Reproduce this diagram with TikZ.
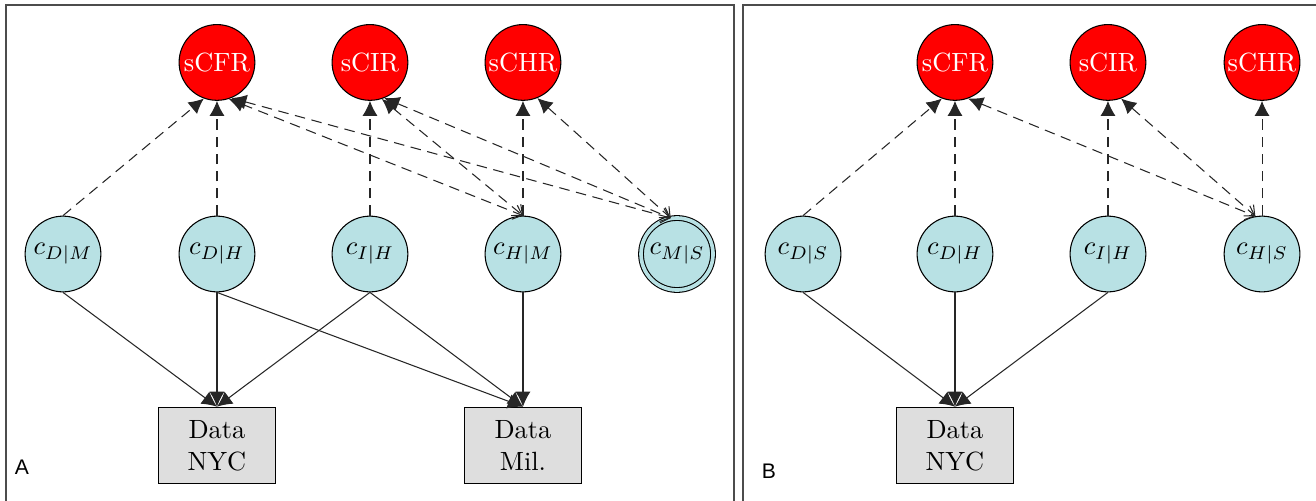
\documentclass[tikz,border=0pt]{standalone}
\usepackage[]{amsmath}
\usepackage[]{amssymb}
\usepackage[]{fontspec}
\usepackage[]{tikz}
\usetikzlibrary{arrows.meta}

\newfontfamily\panelfont{Liberation Sans}
\definecolor{powder}{RGB}{184,225,228}
\definecolor{boxgray}{RGB}{222,222,222}

\begin{document}
\begin{tikzpicture}[
    rate/.style={circle, draw, fill=red, text=white, minimum size=1.01cm, inner sep=0pt},
    cpar/.style={circle, draw, fill=powder, minimum size=1.01cm, inner sep=0pt},
    dbox/.style={rectangle, draw, fill=boxgray, minimum width=1.55cm, minimum height=1.02cm, align=center},
    frame/.style={draw=black!70, line width=0.9pt},
    obs/.style={-{Latex[length=2mm,width=2mm]}, black!85},
    link/.style={-{Latex[length=2mm,width=2mm]}, black!85, dash pattern=on 4pt off 2.5pt},
    both/.style={{Latex[length=2mm,width=2mm]}-{Straight Barb[length=1.1mm,width=2mm]}, black!85, dash pattern=on 4pt off 2.5pt}
]
            \useasboundingbox (0,0) rectangle (17.547,6.68);

            % panel frames
            \draw[frame] (0.08,-0.3) -- (0.08,6.613) -- (9.787,6.613) -- (9.787,-0.3);
            \draw[frame] (9.907,-0.3) -- (9.907,6.613) -- (17.7,6.613);

            % panel A
            \node[rate] (fr1) at (2.893,5.847) {sCFR};
            \node[rate] (ir1) at (4.933,5.847) {sCIR};
            \node[rate] (hr1) at (6.973,5.847) {sCHR};

            \node[cpar] (cDM) at (0.84,3.293) {$c_{D|M}$};
            \node[cpar] (cDH) at (2.893,3.293) {$c_{D|H}$};
            \node[cpar] (cIH) at (4.933,3.293) {$c_{I|H}$};
            \node[cpar] (cHM) at (6.973,3.293) {$c_{H|M}$};
            \node[cpar, minimum size=0.96cm, double=powder, double distance=1.4pt] (cMS) at (9.027,3.293) {$c_{M|S}$};

            \node[dbox] (nyc1) at (2.893,0.74) {Data\\NYC};
            \node[dbox] (mil) at (6.973,0.74) {Data\\Mil.};

            \draw[link] (cDM.north) -- (fr1.-110);
            \draw[link] (cDH.north) -- (fr1.south);
            \draw[link] (cIH.north) -- (ir1.south);
            \draw[link] (cHM.north) -- (hr1.south);
            \draw[both] (fr1.-72) -- (cHM.north);
            \draw[both] (fr1.-68) -- (cMS.100);
            \draw[both] (ir1.-72) -- (cHM.north);
            \draw[both] (ir1.-68) -- (cMS.100);
            \draw[both] (hr1.-68) -- (cMS.100);

            \draw[obs] (cDM.south) -- (nyc1.north);
            \draw[obs] (cDH.south) -- (nyc1.north);
            \draw[obs] (cDH.south) -- (mil.north);
            \draw[obs] (cIH.south) -- (nyc1.north);
            \draw[obs] (cIH.south) -- (mil.north);
            \draw[obs] (cHM.south) -- (mil.north);

            \node[font=\panelfont\footnotesize] (labA) at (0.293,0.453) {A};

            % panel B
            \node[rate] (fr2) at (12.733,5.847) {sCFR};
            \node[rate] (ir2) at (14.773,5.847) {sCIR};
            \node[rate] (hr2) at (16.827,5.847) {sCHR};

            \node[cpar] (cDS) at (10.707,3.293) {$c_{D|S}$};
            \node[cpar] (cDH2) at (12.733,3.293) {$c_{D|H}$};
            \node[cpar] (cIH2) at (14.773,3.293) {$c_{I|H}$};
            \node[cpar] (cHS) at (16.827,3.293) {$c_{H|S}$};

            \node[dbox] (nyc2) at (12.733,0.74) {Data\\NYC};

            \draw[link] (cDS.north) -- (fr2.-110);
            \draw[link] (cDH2.north) -- (fr2.south);
            \draw[link] (cIH2.north) -- (ir2.south);
            \draw[link] (cHS.north) -- (hr2.south);
            \draw[both] (fr2.-70) -- (cHS.100);
            \draw[both] (ir2.-70) -- (cHS.100);

            \draw[obs] (cDS.south) -- (nyc2.north);
            \draw[obs] (cDH2.south) -- (nyc2.north);
            \draw[obs] (cIH2.south) -- (nyc2.north);

            \node[font=\panelfont\footnotesize] (labB) at (10.253,0.4) {B};
        \end{tikzpicture}
\end{document}
